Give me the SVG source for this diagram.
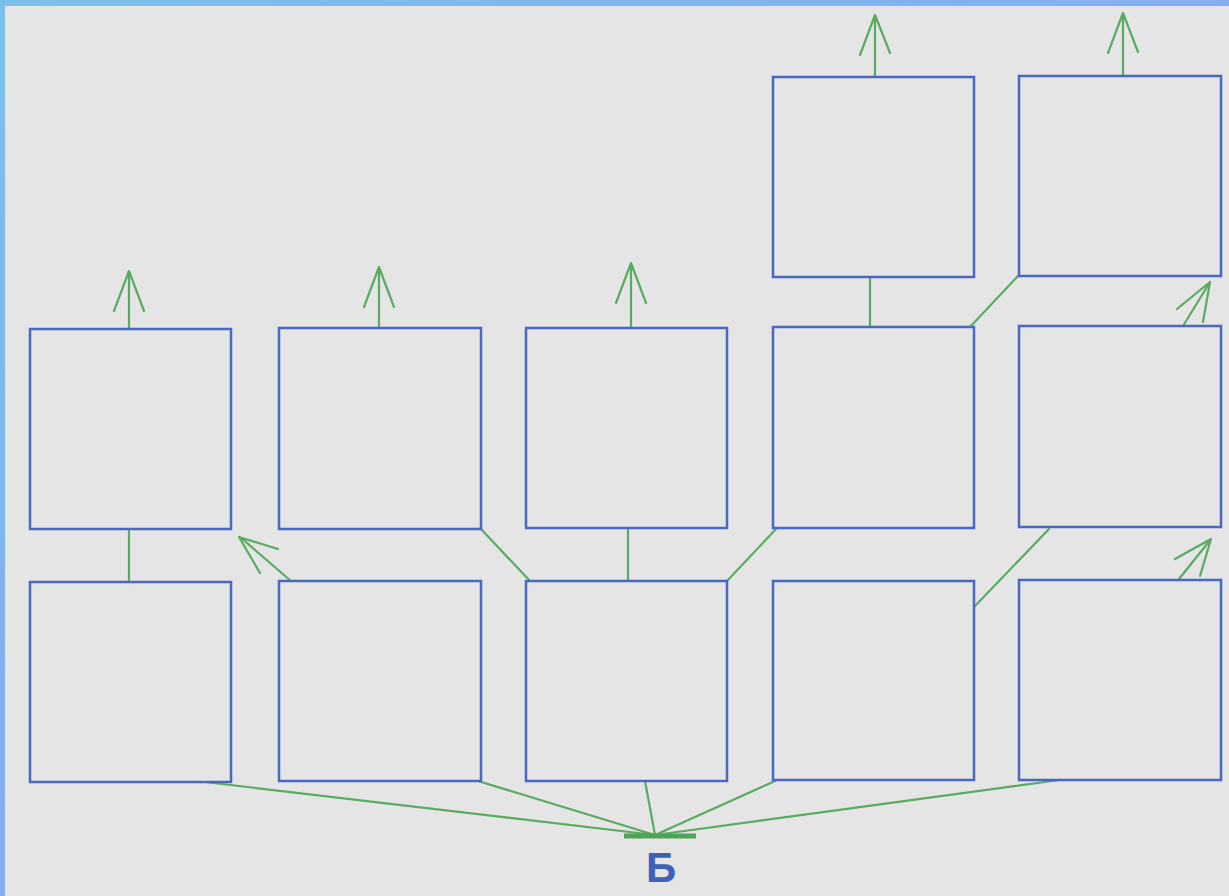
<svg xmlns="http://www.w3.org/2000/svg" width="1229" height="896" viewBox="0 0 1229 896">
<defs>
<linearGradient id="bg" x1="0" y1="0" x2="1" y2="1">
<stop offset="0" stop-color="#7cc0ea"/>
<stop offset="0.5" stop-color="#84aef2"/>
<stop offset="1" stop-color="#7aa8d8"/>
</linearGradient>
<style>
.box{fill:none;stroke:#4a68c2;stroke-width:2.5}
.ln{fill:none;stroke:#5aab62;stroke-width:2.2;stroke-linecap:round;stroke-linejoin:round}
.lbl{font-family:"Liberation Sans",Arial,sans-serif;font-weight:bold;font-size:42px;fill:#3f62b8}
</style>
</defs>
<rect x="0" y="0" width="1229" height="896" fill="url(#bg)"/>
<rect x="5" y="6" width="1224" height="890" fill="#e5e5e5"/>
<g id="connectors">
<path class="ln" d="M129,329 V272 M114,311 L129,271 L144,311"/>
<path class="ln" d="M379,328 V268 M364,307 L379,267 L394,307"/>
<path class="ln" d="M631,328 V264 M616,303 L631,263 L646,303"/>
<path class="ln" d="M875,77 V16 M860,55 L875,15 L890,53"/>
<path class="ln" d="M1123,76 V14 M1108,53 L1123,13 L1138,52"/>
<path class="ln" d="M129,529 V582"/>
<path class="ln" d="M291,581 L240,537 M278,549 L239,537 L260,573"/>
<path class="ln" d="M481,529 L530,581"/>
<path class="ln" d="M628,528 V581"/>
<path class="ln" d="M727,581 L776,529"/>
<path class="ln" d="M870,277 V327"/>
<path class="ln" d="M970,327 L1018,276"/>
<path class="ln" d="M975,606 L1049,529"/>
<path class="ln" d="M1183,326 L1210,282 M1177,309 L1210,282 L1203,322"/>
<path class="ln" d="M1179,579 L1211,539 M1175,559 L1211,539 L1200,576"/>
<path class="ln" d="M205,782 L655,835 M478,781 L655,835 M645,781 L655,835 M775,781 L655,835 M1060,780 L655,835"/>
<path d="M624,836 H696" stroke="#4ea356" stroke-width="5"/>
</g>
<g id="n1"><rect class="box" x="30" y="329" width="201" height="200"/></g>
<g id="n2"><rect class="box" x="279" y="328" width="202" height="201"/></g>
<g id="n3"><rect class="box" x="526" y="328" width="201" height="200"/></g>
<g id="n4"><rect class="box" x="773" y="327" width="201" height="201"/></g>
<g id="n5"><rect class="box" x="1019" y="326" width="202" height="201"/></g>
<g id="n6"><rect class="box" x="30" y="582" width="201" height="200"/></g>
<g id="n7"><rect class="box" x="279" y="581" width="202" height="200"/></g>
<g id="n8"><rect class="box" x="526" y="581" width="201" height="200"/></g>
<g id="n9"><rect class="box" x="773" y="581" width="201" height="199"/></g>
<g id="n10"><rect class="box" x="1019" y="580" width="202" height="200"/></g>
<g id="n11"><rect class="box" x="773" y="77" width="201" height="200"/></g>
<g id="n12"><rect class="box" x="1019" y="76" width="202" height="200"/></g>
<g id="label"><text class="lbl" x="661" y="882" text-anchor="middle">Б</text></g>
</svg>
